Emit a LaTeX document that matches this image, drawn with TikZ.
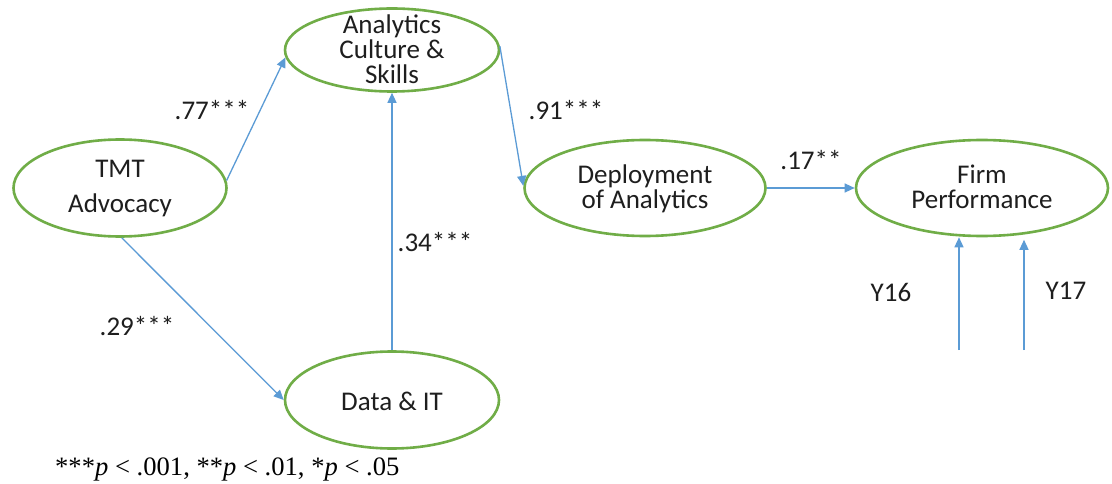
\documentclass[tikz,border=0pt]{standalone}
\usepackage{fontspec}
\setmainfont{Carlito}
\newfontfamily\footfont{Liberation Serif}
\usetikzlibrary{shapes.geometric,arrows.meta}
\definecolor{egreen}{RGB}{112,173,71}
\definecolor{ablue}{RGB}{91,155,213}
\definecolor{txt}{RGB}{30,30,30}
\begin{document}
\begin{tikzpicture}[x=1pt,y=-1pt,
  lat/.style={ellipse, draw=egreen, line width=2.6pt, inner sep=0pt},
  intext/.style={inner sep=0pt, align=center, text=txt, font=\fontsize{27}{25}\selectfont},
  lbl/.style={inner sep=0pt, text=txt, font=\fontsize{27}{27}\selectfont},
  arr/.style={draw=ablue, line width=1.3pt, -{Triangle[length=10pt,width=9pt]}}]
\useasboundingbox (0,0) rectangle (1112,484);
\fill[white] (0,0) rectangle (1112,484);

% latent variables
\node[lat, minimum width=213, minimum height=97] (tmt) at (120,188) {};
\node[lat, minimum width=214, minimum height=83] (acs) at (392,50) {};
\node[lat, minimum width=214, minimum height=97] (data) at (392,400) {};
\node[lat, minimum width=241, minimum height=96] (dep) at (645,188) {};
\node[lat, minimum width=252, minimum height=96] (firm) at (982,188) {};

\node[intext, font=\fontsize{27}{35}\selectfont] (tmt-t) at (120,189) {TMT\\Advocacy};
\node[intext] (acs-t) at (392,49) {Analytics\\Culture \&\\Skills};
\node[intext] (data-t) at (392,401) {Data \& IT};
\node[intext] (dep-t) at (645,189) {Deployment\\of Analytics};
\node[intext] (firm-t) at (982,187) {Firm\\Performance};

% paths
\draw[arr] (tmt.4) -- (acs.184);
\draw[arr] (tmt.272) -- (data.west);
\draw[arr] (data.north) -- (acs.south);
\draw[arr] (acs.2) -- (dep.179);
\draw[arr] (dep.east) -- (firm.west);

\coordinate (y16s) at (959,350);
\coordinate (y17s) at (1024,350);
\draw[arr] (y16s) -- (y16s |- firm.south);
\draw[arr] (y17s) -- ([yshift=-2.5pt]y17s |- firm.south);

% coefficients
\node[lbl] (l77) at (212,110) {.77***};
\node[lbl] (l91) at (566,110) {.91***};
\node[lbl] (l17) at (811,160) {.17**};
\node[lbl] (l34) at (435,242) {.34***};
\node[lbl] (l29) at (137,326) {.29***};
\node[lbl] (ly16) at (891,292) {Y16};
\node[lbl] (ly17) at (1066,291) {Y17};

% note
\node[inner sep=0pt, anchor=base west, text=black, font=\footfont\fontsize{26.6}{27}\selectfont] (note) at (55,475)
  {***\textit{p} < .001, **\textit{p} < .01, *\textit{p} < .05};
\end{tikzpicture}
\end{document}
